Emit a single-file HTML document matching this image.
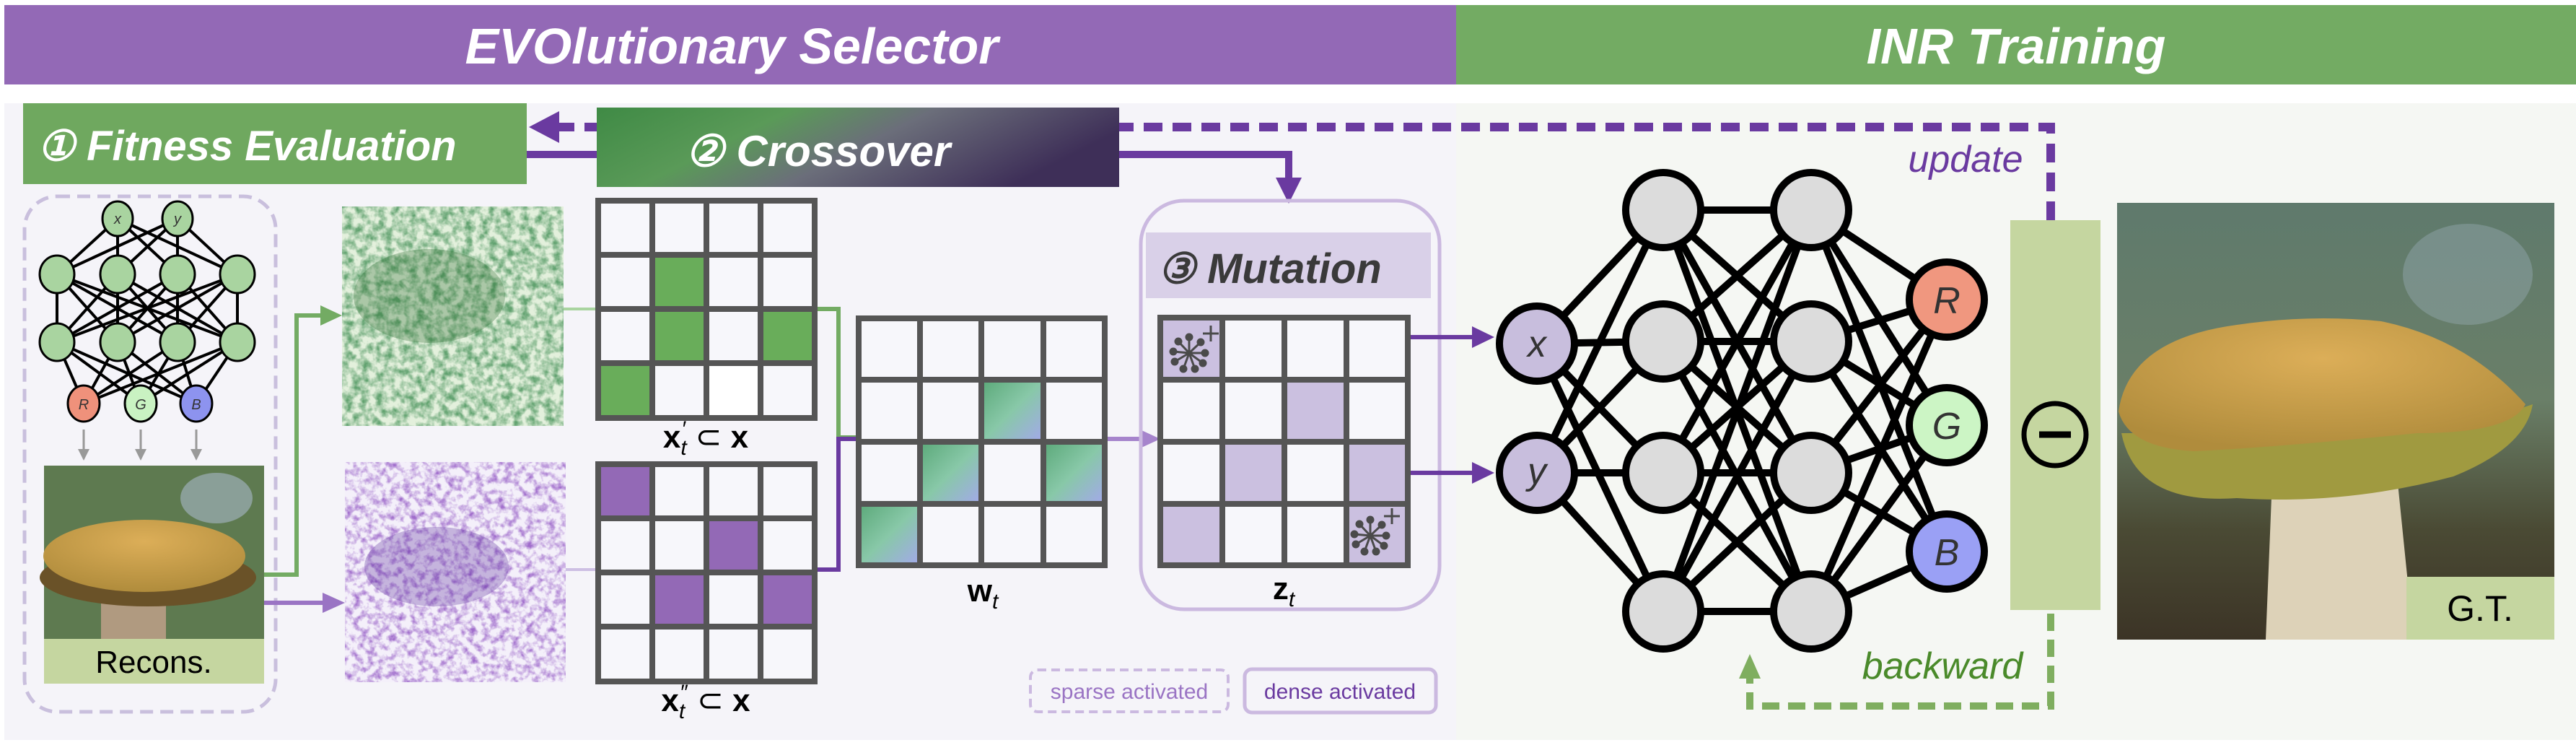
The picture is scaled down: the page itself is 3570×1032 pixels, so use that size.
<!DOCTYPE html>
<html><head><meta charset="utf-8"><style>
html,body{margin:0;padding:0;background:#fff;}
svg{display:block;}
text{font-family:"Liberation Sans",sans-serif;}
</style></head><body>
<svg width="3570" height="1032" viewBox="0 0 3570 1032" xmlns="http://www.w3.org/2000/svg">
<defs>
<linearGradient id="cross" x1="0" y1="0" x2="1" y2="0.3">
<stop offset="0" stop-color="#3f8a45"/><stop offset="0.35" stop-color="#5a9a58"/><stop offset="0.6" stop-color="#6b6e7a"/><stop offset="1" stop-color="#3e2f58"/></linearGradient>
<linearGradient id="wg" x1="0" y1="0" x2="1" y2="1">
<stop offset="0" stop-color="#5aa878"/><stop offset="0.5" stop-color="#88c8a8"/><stop offset="1" stop-color="#a4a8ec"/></linearGradient>
<filter id="ng" x="0" y="0" width="1" height="1"><feTurbulence type="fractalNoise" baseFrequency="0.09" numOctaves="3" seed="3"/><feColorMatrix type="matrix" values="0 0 0 0 0.12  0 0 0 0 0.36  0 0 0 0 0.16  2.2 0 0 0 -0.75"/></filter>
<filter id="np" x="0" y="0" width="1" height="1"><feTurbulence type="fractalNoise" baseFrequency="0.1" numOctaves="3" seed="7"/><feColorMatrix type="matrix" values="0 0 0 0 0.35  0 0 0 0 0.15  0 0 0 0 0.6  2.4 0 0 0 -1.0"/></filter>
<linearGradient id="bgph" x1="0" y1="0" x2="0" y2="1"><stop offset="0" stop-color="#5f7a6c"/><stop offset="0.45" stop-color="#6a7f68"/><stop offset="0.75" stop-color="#4a4a34"/><stop offset="1" stop-color="#3c3426"/></linearGradient>
<radialGradient id="cap" cx="0.5" cy="0.3" r="0.7"><stop offset="0" stop-color="#dcae58"/><stop offset="1" stop-color="#b08c3c"/></radialGradient>
<g id="spark" stroke="#4a4a4a" stroke-width="3" fill="#4a4a4a">
<line x1="0" y1="0" x2="0" y2="-22"/><line x1="0" y1="0" x2="16" y2="-15"/><line x1="0" y1="0" x2="22" y2="0"/><line x1="0" y1="0" x2="19" y2="14"/><line x1="0" y1="0" x2="8" y2="22"/><line x1="0" y1="0" x2="-8" y2="22"/><line x1="0" y1="0" x2="-20" y2="12"/><line x1="0" y1="0" x2="-22" y2="-2"/><line x1="0" y1="0" x2="-15" y2="-16"/>
<circle cx="0" cy="-22" r="4"/><circle cx="16" cy="-15" r="4"/><circle cx="22" cy="0" r="4"/><circle cx="19" cy="14" r="4"/><circle cx="8" cy="22" r="4"/><circle cx="-8" cy="22" r="4"/><circle cx="-20" cy="12" r="4"/><circle cx="-22" cy="-2" r="4"/><circle cx="-15" cy="-16" r="4"/>
<line x1="30" y1="-38" x2="30" y2="-16"/><line x1="19" y1="-27" x2="41" y2="-27"/>
</g>
</defs>

<rect x="0" y="0" width="3570" height="1032" fill="#fff"/>
<rect x="6" y="143" width="2012" height="882" fill="#f5f4f9"/>
<rect x="2018" y="143" width="1552" height="882" fill="#f5f7f3"/>
<rect x="6" y="7" width="2012" height="110" fill="#9369b6"/>
<rect x="2018" y="7" width="1552" height="110" fill="#73ab63"/>
<text x="1014" y="88" font-size="70" font-weight="bold" font-style="italic" fill="#fff" text-anchor="middle">EVOlutionary Selector</text>
<text x="2794" y="88" font-size="70" font-weight="bold" font-style="italic" fill="#fff" text-anchor="middle">INR Training</text>

<path d="M2842 305 V176 H1551" fill="none" stroke="#6a3aa0" stroke-width="12" stroke-dasharray="26 14"/>
<line x1="770" y1="176" x2="827" y2="176" stroke="#6a3aa0" stroke-width="12" stroke-dasharray="26 14"/>
<polygon points="733,176 775,154 775,198" fill="#6a3aa0"/>
<path d="M730 214 H827 M1551 214 H1786 V250" fill="none" stroke="#6a3aa0" stroke-width="10"/>
<polygon points="1768,246 1804,246 1786,282" fill="#6a3aa0"/>

<rect x="32" y="143" width="698" height="112" fill="#6fa85f"/>
<text x="52" y="222" font-size="58" font-weight="bold" font-style="italic" fill="#fff">① Fitness Evaluation</text>
<rect x="827" y="149" width="724" height="110" fill="url(#cross)"/>
<text x="950" y="230" font-size="60" font-weight="bold" font-style="italic" fill="#fff">② Crossover</text>

<rect x="34" y="272" width="348" height="714" rx="45" fill="none" stroke="#c9bfdd" stroke-width="5" stroke-dasharray="18 10"/>

<path d="M163 303L79 380M163 303L163 380M163 303L246 380M163 303L329 380M246 303L79 380M246 303L163 380M246 303L246 380M246 303L329 380
M79 380L79 474M79 380L163 474M79 380L246 474M79 380L329 474M163 380L79 474M163 380L163 474M163 380L246 474M163 380L329 474M246 380L79 474M246 380L163 474M246 380L246 474M246 380L329 474M329 380L79 474M329 380L163 474M329 380L246 474M329 380L329 474
M79 474L116 559M79 474L195 559M79 474L272 559M163 474L116 559M163 474L195 559M163 474L272 559M246 474L116 559M246 474L195 559M246 474L272 559M329 474L116 559M329 474L195 559M329 474L272 559" stroke="#000" stroke-width="4"/>
<g fill="#a9d4a0" stroke="#000" stroke-width="3">
<ellipse cx="163" cy="303" rx="21" ry="24"/><ellipse cx="246" cy="303" rx="21" ry="24"/>
<ellipse cx="79" cy="380" rx="24" ry="26"/><ellipse cx="163" cy="380" rx="24" ry="26"/><ellipse cx="246" cy="380" rx="24" ry="26"/><ellipse cx="329" cy="380" rx="24" ry="26"/>
<ellipse cx="79" cy="474" rx="24" ry="26"/><ellipse cx="163" cy="474" rx="24" ry="26"/><ellipse cx="246" cy="474" rx="24" ry="26"/><ellipse cx="329" cy="474" rx="24" ry="26"/>
</g>
<ellipse cx="116" cy="559" rx="22" ry="25" fill="#ef917b" stroke="#000" stroke-width="3"/>
<ellipse cx="195" cy="559" rx="22" ry="25" fill="#c9f2c2" stroke="#000" stroke-width="3"/>
<ellipse cx="272" cy="559" rx="22" ry="25" fill="#8d93ef" stroke="#000" stroke-width="3"/>
<g font-size="20" font-style="italic" fill="#333" text-anchor="middle"><text x="163" y="310">x</text><text x="246" y="310">y</text><text x="116" y="567">R</text><text x="195" y="567">G</text><text x="272" y="567">B</text></g>
<g stroke="#999" stroke-width="3"><line x1="116" y1="595" x2="116" y2="625"/><line x1="195" y1="595" x2="195" y2="625"/><line x1="272" y1="595" x2="272" y2="625"/></g>
<g fill="#999"><polygon points="108,622 124,622 116,638"/><polygon points="187,622 203,622 195,638"/><polygon points="264,622 280,622 272,638"/></g>

<rect x="61" y="645" width="305" height="240" fill="#5e7a50"/>
<ellipse cx="300" cy="690" rx="50" ry="35" fill="#a8b8c8" opacity="0.6"/>
<rect x="140" y="800" width="90" height="85" fill="#b09a80"/>
<ellipse cx="205" cy="800" rx="150" ry="40" fill="#6a5228"/>
<ellipse cx="200" cy="770" rx="140" ry="50" fill="url(#cap)"/>
<rect x="61" y="885" width="305" height="62" fill="#c5d6a0"/>
<text x="213" y="932" font-size="44" fill="#000" text-anchor="middle">Recons.</text>

<rect x="474" y="286" width="307" height="304" fill="#e3f0dc"/>
<rect x="474" y="286" width="307" height="304" filter="url(#ng)"/>
<ellipse cx="595" cy="410" rx="105" ry="65" fill="#2c6a30" opacity="0.3"/>
<rect x="478" y="640" width="306" height="305" fill="#f4f0fa"/>
<rect x="478" y="640" width="306" height="305" filter="url(#np)"/>
<ellipse cx="605" cy="785" rx="100" ry="55" fill="#5a2a9a" opacity="0.3"/>

<path d="M366 796 H411 V437 H445" fill="none" stroke="#73ab63" stroke-width="6"/>
<polygon points="444,423 474,437 444,451" fill="#73ab63"/>
<line x1="366" y1="835" x2="448" y2="835" stroke="#9a74c4" stroke-width="6"/>
<polygon points="447,821 478,835 447,849" fill="#9a74c4"/>
<line x1="781" y1="428" x2="829" y2="428" stroke="#a9d4a0" stroke-width="4"/>
<line x1="784" y1="789" x2="829" y2="789" stroke="#cdbfe3" stroke-width="4"/>
<path d="M1129 428 H1162 V606 H1190" fill="none" stroke="#73ab63" stroke-width="6"/>
<path d="M1129 789 H1162 V608 H1190" fill="none" stroke="#6a3aa0" stroke-width="6"/>
<line x1="1531" y1="608" x2="1585" y2="608" stroke="#a684cc" stroke-width="6"/>
<polygon points="1582,596 1608,608 1582,620" fill="#a684cc"/>

<g>
<rect x="829" y="278" width="300" height="301" fill="#f7f7fb"/>
<rect x="904" y="353" width="75" height="75" fill="#69ad5a"/>
<rect x="904" y="428" width="75" height="75" fill="#69ad5a"/>
<rect x="1054" y="428" width="75" height="75" fill="#69ad5a"/>
<rect x="829" y="503" width="75" height="76" fill="#69ad5a"/>
<rect x="979" y="503" width="75" height="76" fill="#ffffff"/>
<path d="M829 278H1129V579H829Z M904 278V579 M979 278V579 M1054 278V579 M829 353H1129 M829 428H1129 M829 503H1129" fill="none" stroke="#555" stroke-width="8"/>
</g>
<text x="978" y="620" font-size="44" font-family="Liberation Serif" font-weight="bold" text-anchor="middle">x<tspan font-style="italic" font-weight="normal" font-size="30" dy="10">t</tspan><tspan font-size="30" dx="-6" dy="-26" font-weight="normal">′</tspan><tspan dy="16" font-weight="normal"> ⊂ </tspan>x</text>

<g>
<rect x="829" y="643" width="300" height="301" fill="#f7f7fb"/>
<rect x="829" y="643" width="75" height="75" fill="#9369b6"/>
<rect x="979" y="718" width="75" height="75" fill="#9369b6"/>
<rect x="904" y="793" width="75" height="75" fill="#9369b6"/>
<rect x="1054" y="793" width="75" height="75" fill="#9369b6"/>
<path d="M829 643H1129V944H829Z M904 643V944 M979 643V944 M1054 643V944 M829 718H1129 M829 793H1129 M829 868H1129" fill="none" stroke="#555" stroke-width="8"/>
</g>
<text x="978" y="985" font-size="44" font-family="Liberation Serif" font-weight="bold" text-anchor="middle">x<tspan font-style="italic" font-weight="normal" font-size="30" dy="10">t</tspan><tspan font-size="30" dx="-6" dy="-26" font-weight="normal">″</tspan><tspan dy="16" font-weight="normal"> ⊂ </tspan>x</text>

<g>
<rect x="1190" y="441" width="341" height="342" fill="#f7f7fb"/>
<rect x="1360" y="526" width="86" height="86" fill="url(#wg)"/>
<rect x="1275" y="612" width="86" height="86" fill="url(#wg)"/>
<rect x="1446" y="612" width="85" height="86" fill="url(#wg)"/>
<rect x="1190" y="698" width="86" height="85" fill="url(#wg)"/>
<path d="M1190 441H1531V783H1190Z M1275 441V783 M1360 441V783 M1446 441V783 M1190 526H1531 M1190 612H1531 M1190 698H1531" fill="none" stroke="#555" stroke-width="8"/>
</g>
<text x="1362" y="833" font-size="44" font-family="Liberation Serif" font-weight="bold" text-anchor="middle">w<tspan font-style="italic" font-weight="normal" font-size="30" dy="10">t</tspan></text>

<rect x="1581" y="278" width="414" height="566" rx="60" fill="none" stroke="#cbb9e0" stroke-width="5"/>
<rect x="1588" y="322" width="395" height="91" fill="#d9d0e8"/>
<text x="1605" y="392" font-size="58" font-weight="bold" font-style="italic" fill="#3a3a3a">③ Mutation</text>
<g>
<rect x="1608" y="440" width="343" height="343" fill="#f7f7fb"/>
<rect x="1608" y="440" width="86" height="86" fill="#cbc0e0"/>
<rect x="1780" y="526" width="86" height="86" fill="#cbc0e0"/>
<rect x="1694" y="612" width="86" height="86" fill="#cbc0e0"/>
<rect x="1866" y="612" width="85" height="86" fill="#cbc0e0"/>
<rect x="1608" y="698" width="86" height="85" fill="#cbc0e0"/>
<rect x="1866" y="698" width="85" height="85" fill="#cbc0e0"/>
<path d="M1608 440H1951V783H1608Z M1694 440V783 M1780 440V783 M1866 440V783 M1608 526H1951 M1608 612H1951 M1608 698H1951" fill="none" stroke="#555" stroke-width="8"/>
<use href="#spark" x="1648" y="489"/>
<use href="#spark" x="1899" y="742"/>
</g>
<text x="1779" y="830" font-size="44" font-family="Liberation Serif" font-weight="bold" text-anchor="middle">z<tspan font-style="italic" font-weight="normal" font-size="30" dy="10">t</tspan></text>

<rect x="1428" y="928" width="274" height="58" rx="10" fill="none" stroke="#cbb9e0" stroke-width="4" stroke-dasharray="12 7"/>
<text x="1565" y="968" font-size="30" fill="#9a74c4" text-anchor="middle">sparse activated</text>
<rect x="1725" y="927" width="265" height="60" rx="10" fill="none" stroke="#cbb9e0" stroke-width="5"/>
<text x="1857" y="968" font-size="30" fill="#6a3aa0" text-anchor="middle">dense activated</text>

<line x1="1955" y1="467" x2="2045" y2="467" stroke="#6a3aa0" stroke-width="6"/>
<polygon points="2040,452 2071,467 2040,482" fill="#6a3aa0"/>
<line x1="1955" y1="655" x2="2045" y2="655" stroke="#6a3aa0" stroke-width="6"/>
<polygon points="2040,640 2071,655 2040,670" fill="#6a3aa0"/>

<path d="M2130 476L2305 291M2130 476L2305 473M2130 476L2305 655M2130 476L2305 847M2130 655L2305 291M2130 655L2305 473M2130 655L2305 655M2130 655L2305 847
M2305 291L2510 291M2305 291L2510 473M2305 291L2510 655M2305 291L2510 847M2305 473L2510 291M2305 473L2510 473M2305 473L2510 655M2305 473L2510 847M2305 655L2510 291M2305 655L2510 473M2305 655L2510 655M2305 655L2510 847M2305 847L2510 291M2305 847L2510 473M2305 847L2510 655M2305 847L2510 847
M2510 291L2698 415M2510 291L2698 589M2510 291L2698 764M2510 473L2698 415M2510 473L2698 589M2510 473L2698 764M2510 655L2698 415M2510 655L2698 589M2510 655L2698 764M2510 847L2698 415M2510 847L2698 589M2510 847L2698 764" stroke="#000" stroke-width="10"/>
<g stroke="#000" stroke-width="10">
<circle cx="2130" cy="476" r="52" fill="#c8bedd"/><circle cx="2130" cy="655" r="52" fill="#c8bedd"/>
<circle cx="2305" cy="291" r="52" fill="#dcdcdc"/><circle cx="2305" cy="473" r="52" fill="#dcdcdc"/><circle cx="2305" cy="655" r="52" fill="#dcdcdc"/><circle cx="2305" cy="847" r="52" fill="#dcdcdc"/>
<circle cx="2510" cy="291" r="52" fill="#dcdcdc"/><circle cx="2510" cy="473" r="52" fill="#dcdcdc"/><circle cx="2510" cy="655" r="52" fill="#dcdcdc"/><circle cx="2510" cy="847" r="52" fill="#dcdcdc"/>
<circle cx="2698" cy="415" r="52" fill="#f0977f"/><circle cx="2698" cy="589" r="52" fill="#ccf5c5"/><circle cx="2698" cy="764" r="52" fill="#9aa0f5"/>
</g>
<g font-size="52" font-style="italic" fill="#333" text-anchor="middle"><text x="2130" y="494">x</text><text x="2130" y="670">y</text><text x="2698" y="434">R</text><text x="2698" y="608">G</text><text x="2698" y="783">B</text></g>

<text x="2724" y="238" font-size="52" font-style="italic" fill="#6a3aa0" text-anchor="middle">update</text>

<rect x="2786" y="305" width="125" height="540" fill="#c5d6a0"/>
<circle cx="2848" cy="602" r="43" fill="none" stroke="#000" stroke-width="7"/>
<line x1="2826" y1="602" x2="2870" y2="602" stroke="#000" stroke-width="9"/>

<path d="M2842 850 V978 H2425 V940" fill="none" stroke="#7fae5f" stroke-width="10" stroke-dasharray="24 12"/>
<polygon points="2410,940 2440,940 2425,906" fill="#7fae5f"/>
<text x="2692" y="940" font-size="52" font-style="italic" fill="#4a8a2a" text-anchor="middle">backward</text>

<rect x="2934" y="281" width="606" height="605" fill="url(#bgph)"/>
<ellipse cx="3420" cy="380" rx="90" ry="70" fill="#9ab0b8" opacity="0.4"/>
<path d="M3150 640 L3320 640 L3345 886 L3140 886 Z" fill="#ddd2b8"/>
<path d="M2940 600 Q2960 700 3100 690 Q3250 700 3400 660 Q3500 620 3510 560 Q3400 600 3250 600 Q3080 600 2940 600 Z" fill="#a09a40"/>
<path d="M2936 570 Q2950 470 3100 450 Q3200 435 3300 445 Q3420 470 3500 560 Q3480 600 3350 600 Q3150 620 3040 625 Q2950 620 2936 570 Z" fill="url(#cap)"/>
<rect x="3335" y="799" width="205" height="87" fill="#c5d6a0"/>
<text x="3437" y="860" font-size="50" fill="#000" text-anchor="middle">G.T.</text>
</svg>
</body></html>
